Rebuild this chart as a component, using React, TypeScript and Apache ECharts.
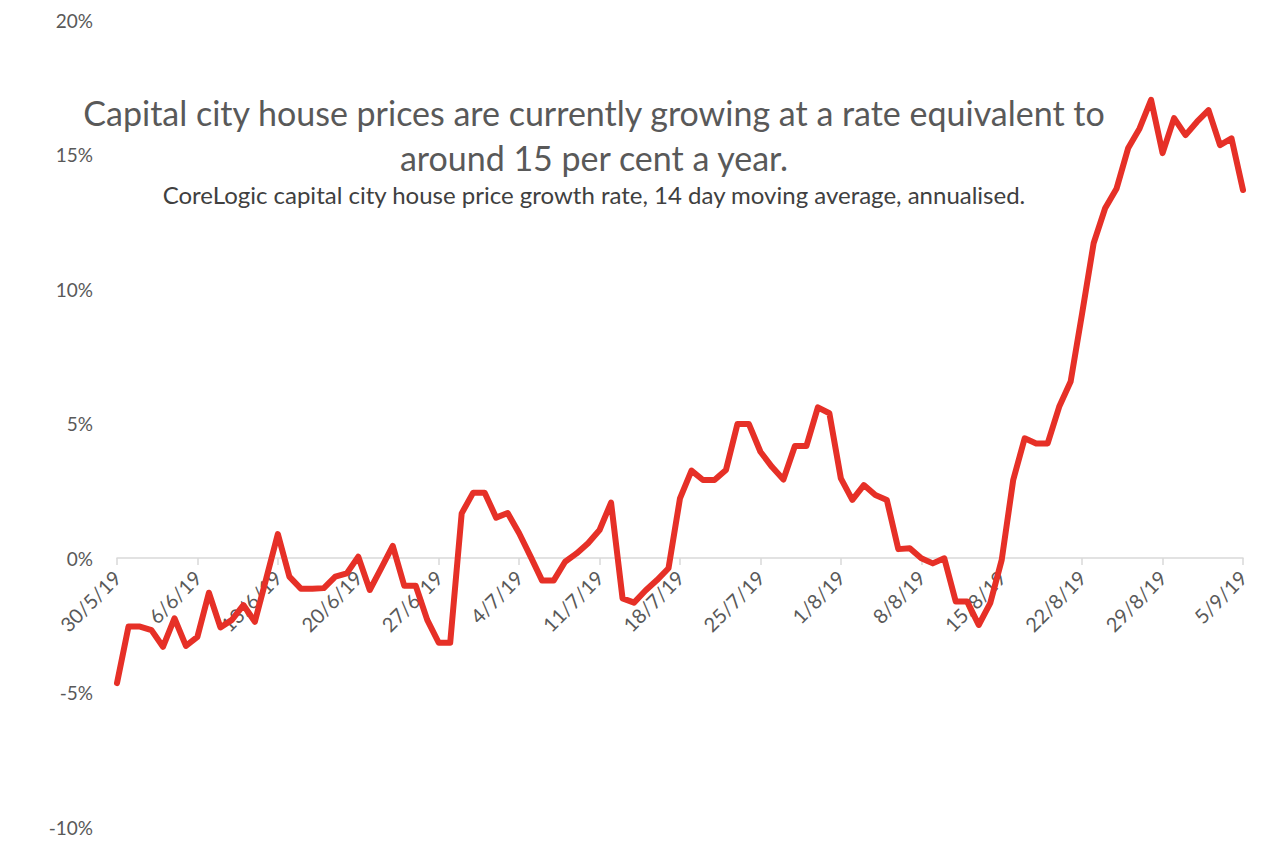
import React, { useEffect, useRef } from "react";
import * as echarts from "echarts";

const startDate = new Date(2019, 4, 30);
const growthValues: number[] = [
  -4.65, -2.55, -2.55, -2.68, -3.3, -2.24, -3.27, -2.93, -1.29, -2.58,
  -2.3, -1.75, -2.37, -0.74, 0.89, -0.69, -1.14, -1.14, -1.12, -0.69,
  -0.57, 0.05, -1.19, -0.38, 0.45, -1.03, -1.03, -2.3, -3.15, -3.15,
  1.66, 2.43, 2.43, 1.5, 1.67, 0.92, 0.05, -0.84, -0.84, -0.14,
  0.17, 0.55, 1.04, 2.06, -1.5, -1.66, -1.21, -0.82, -0.38, 2.22,
  3.25, 2.9, 2.9, 3.27, 4.98, 4.98, 3.95, 3.39, 2.92, 4.16,
  4.16, 5.6, 5.38, 2.96, 2.16, 2.71, 2.34, 2.16, 0.33, 0.36,
  -0.01, -0.2, -0.01, -1.62, -1.62, -2.49, -1.68, -0.07, 2.9, 4.45,
  4.26, 4.26, 5.62, 6.56, 9.1, 11.7, 13.0, 13.74, 15.23, 15.97,
  17.03, 15.05, 16.35, 15.72, 16.22, 16.65, 15.35, 15.6, 13.68,
];
const dateLabels: string[] = growthValues.map((_, i) => {
  const d = new Date(startDate.getTime() + i * 86400000);
  return `${d.getDate()}/${d.getMonth() + 1}/19`;
});
const titleLines = [
  "Capital city house prices are currently growing at a rate equivalent to",
  "around 15 per cent a year.",
];
const subtitle =
  "CoreLogic capital city house price growth rate, 14 day moving average, annualised.";

const FONT = "Lato";
const GREY = "#595959";

export default function App() {
  const ref = useRef<HTMLDivElement>(null);
  useEffect(() => {
    document.body.style.margin = "0";
    const chart = echarts.init(ref.current!, undefined, { renderer: "svg" });
    chart.setOption({
      animation: false,
      backgroundColor: "#ffffff",
      textStyle: { fontFamily: FONT },
      grid: {
        left: 117,
        right: 37,
        top: 20,
        bottom: 39,
        containLabel: false,
        outerBoundsMode: "none",
      },
      xAxis: {
        type: "category",
        data: dateLabels,
        boundaryGap: false,
        offset: -269,
        axisLine: { onZero: false, lineStyle: { color: "#d9d9d9", width: 1.5 } },
        axisTick: { show: true, interval: 6, length: 7, lineStyle: { color: "#d9d9d9", width: 1.5 } },
        axisLabel: {
          interval: 6,
          rotate: 45,
          color: GREY,
          fontSize: 20,
          fontFamily: FONT,
          margin: 16,
        },
        splitLine: { show: false },
      },
      yAxis: {
        type: "value",
        min: -10,
        max: 20,
        interval: 5,
        axisLine: { show: false },
        axisTick: { show: false },
        splitLine: { show: false },
        axisLabel: {
          color: GREY,
          fontSize: 19,
          fontFamily: FONT,
          margin: 24,
          formatter: (v: number) => `${v}%`,
        },
      },
      graphic: [
        {
          type: "text",
          x: 594,
          y: 112,
          style: {
            text: titleLines[0],
            font: `34px ${FONT}`,
            fill: GREY,
            textAlign: "center",
            textVerticalAlign: "middle",
          },
        },
        {
          type: "text",
          x: 594,
          y: 157,
          style: {
            text: titleLines[1],
            font: `34px ${FONT}`,
            fill: GREY,
            textAlign: "center",
            textVerticalAlign: "middle",
          },
        },
        {
          type: "text",
          x: 594,
          y: 194,
          style: {
            text: subtitle,
            font: `24px ${FONT}`,
            fill: "#404040",
            textAlign: "center",
            textVerticalAlign: "middle",
          },
        },
      ],
      series: [
        {
          type: "line",
          data: growthValues,
          showSymbol: false,
          symbol: "none",
          lineStyle: { color: "#e63027", width: 6, join: "round", cap: "round" },
        },
      ],
    });
    return () => chart.dispose();
  }, []);
  return (
    <div
      ref={ref}
      style={{ position: "absolute", left: 0, top: 0, width: 1280, height: 866 }}
    />
  );
}
